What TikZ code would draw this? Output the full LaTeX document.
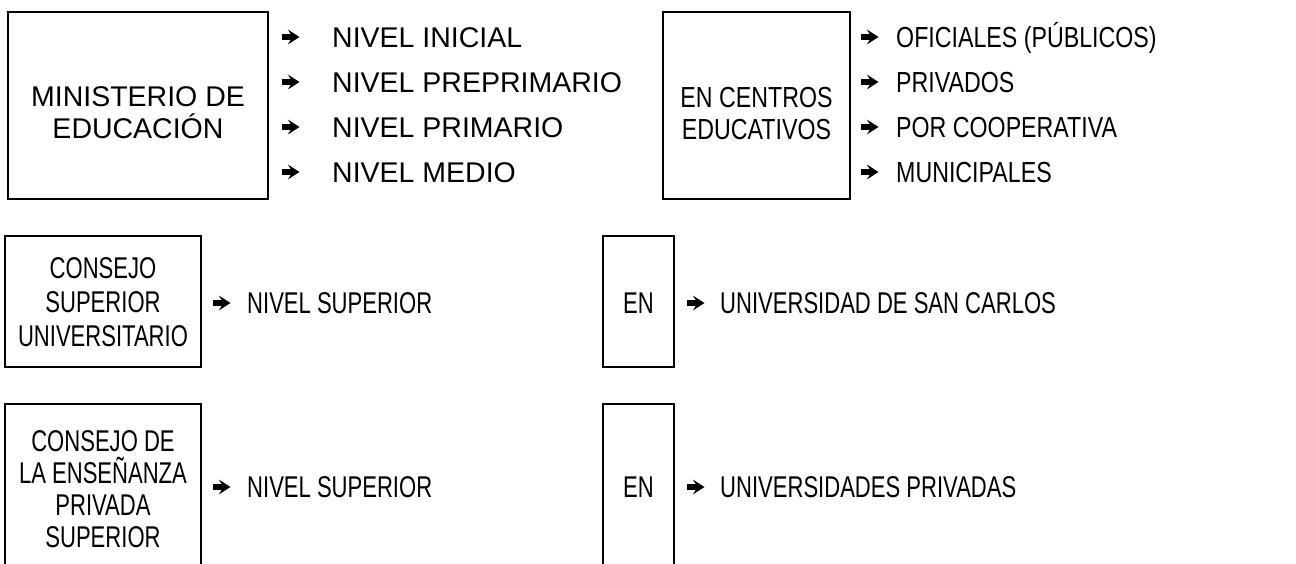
\documentclass[tikz,border=0pt]{standalone}
\usepackage{fontspec}
\setmainfont{Liberation Sans}
\newfontfamily\midfont[FakeStretch=0.8]{Liberation Sans}
\newfontfamily\narrowfont[FakeStretch=0.735]{Liberation Sans}
\begin{document}
\begin{tikzpicture}[x=1pt,y=-1pt,
  wide/.style={font=\fontsize{28.5}{32}\selectfont},
  mid/.style={font=\midfont\fontsize{29}{32}\selectfont},
  narrow/.style={font=\narrowfont\fontsize{30}{34}\selectfont},
  box/.style={draw, line width=1.8pt, inner sep=0pt},
  lbl/.style={align=center, inner sep=0pt},
  item/.style={anchor=west, inner sep=0pt, text depth=0pt},
  harrow/.pic={\fill (0,-2.8) -- (8.8,-2.8) -- (5.8,-7.5) -- (17.5,0) -- (5.8,7.5) -- (8.8,2.8) -- (0,2.8) -- cycle;}]
\useasboundingbox (0,0) rectangle (1296,564);
\clip (0,0) rectangle (1296,564);
\fill[white] (0,0) rectangle (1296,564);
% row 1, left
\node[box, minimum width=260pt, minimum height=187pt] (min) at (138,105.5) {};
\node[lbl, wide] (mint) at (138,113) {MINISTERIO DE\\EDUCACIÓN};
\foreach \y/\t [count=\i] in {37/NIVEL INICIAL, 82/NIVEL PREPRIMARIO, 127/NIVEL PRIMARIO, 172/NIVEL MEDIO}{
  \pic at (282,\y) {harrow};
  \node[item, wide, text height=20.4pt] (n\i) at (332,\y) {\t};
}
% row 1, right
\node[box, minimum width=187pt, minimum height=187pt] (cen) at (756.5,105.5) {};
\node[lbl, mid] (cent) at (756.5,113.5) {EN CENTROS\\EDUCATIVOS};
\foreach \y/\t [count=\i] in {37/OFICIALES (PÚBLICOS), 82/PRIVADOS, 127/POR COOPERATIVA, 172/MUNICIPALES}{
  \pic at (861,\y) {harrow};
  \node[item, mid, text height=20.8pt] (c\i) at (896,\y) {\t};
}
% row 2
\node[box, minimum width=196pt, minimum height=131pt] (csu) at (103,301.5) {};
\node[lbl, narrow] (csut) at (103,302) {CONSEJO\\SUPERIOR\\UNIVERSITARIO};
\pic at (213,303) {harrow};
\node[item, narrow, text height=21.5pt] (r2n) at (247,303) {NIVEL SUPERIOR};
\node[box, minimum width=71pt, minimum height=131pt] (en1) at (638.5,301.5) {};
\node[lbl, narrow] (en1t) at (638.5,303) {EN};
\pic at (687,303) {harrow};
\node[item, narrow, text height=21.5pt] (r2u) at (720,303) {UNIVERSIDAD DE SAN CARLOS};
% row 3
\node[box, minimum width=196pt, minimum height=172pt] (cep) at (103,490) {};
\node[lbl, narrow, font=\narrowfont\fontsize{30}{32}\selectfont] (cept) at (103,489.5) {CONSEJO DE\\LA ENSEÑANZA\\PRIVADA\\SUPERIOR};
\pic at (213,487) {harrow};
\node[item, narrow, text height=21.5pt] (r3n) at (247,487) {NIVEL SUPERIOR};
\node[box, minimum width=71pt, minimum height=172pt] (en2) at (638.5,490) {};
\node[lbl, narrow] (en2t) at (638.5,487) {EN};
\pic at (687,487) {harrow};
\node[item, narrow, text height=21.5pt] (r3u) at (720,487) {UNIVERSIDADES PRIVADAS};
\end{tikzpicture}
\end{document}
